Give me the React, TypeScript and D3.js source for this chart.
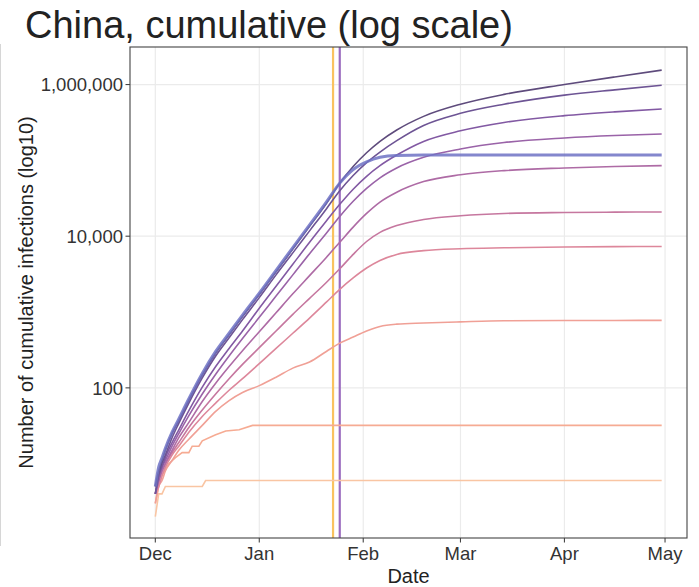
import React from "react";
import * as d3 from "d3";

const W = 699;
const H = 587;
const M = { left: 130, right: 687, top: 47, bottom: 538 };

const START = new Date(2019, 11, 1);
const dayDate = (d: number) => new Date(2019, 11, 1 + d);

// common day grid (days since 1 Dec 2019)
const gridDays = [0, 1, 2, 3, 5, 7, 10, 14, 18, 22, 26, 31, 36, 41, 46, 51, 55, 59, 63, 67, 72, 80, 91, 104, 122, 137, 151];

const s1 = [5, 8, 11, 15, 25, 37, 69, 148, 288, 501, 871, 1706, 3388, 6761, 13490, 26915, 50119, 83176, 125893, 177828, 251189, 380189, 549541, 741310, 1000000, 1258925, 1548817];
const s2 = [4, 7, 10, 13, 22, 34, 63, 135, 263, 457, 794, 1549, 3090, 6026, 11749, 22909, 39811, 63096, 93325, 128825, 181970, 288403, 416869, 549541, 724436, 851138, 977237];
const s3 = [4, 7, 9, 12, 19, 28, 50, 102, 191, 331, 562, 1122, 2188, 4266, 8318, 15849, 26303, 41687, 61660, 85114, 117490, 177828, 245471, 316228, 389045, 436516, 475335];
const s4 = [4, 6, 9, 11, 17, 25, 43, 83, 151, 263, 447, 851, 1622, 3090, 5888, 10965, 18197, 28840, 42658, 58884, 79433, 109648, 141254, 171791, 197242, 212324, 222331];
const s5 = [4, 6, 8, 10, 15, 22, 35, 66, 115, 191, 309, 550, 977, 1738, 3020, 5248, 8318, 13183, 19953, 28184, 38019, 52481, 64565, 73282, 79433, 83176, 85114];
const s6 = [4, 6, 8, 10, 14, 19, 30, 51, 83, 132, 204, 339, 562, 933, 1514, 2455, 3715, 5754, 8511, 11220, 13804, 16596, 18621, 19953, 20512, 20749, 20893];
const s7 = [4, 5, 7, 9, 13, 17, 26, 42, 63, 93, 132, 209, 331, 525, 832, 1349, 1995, 2818, 3802, 4786, 5754, 6457, 6839, 7031, 7194, 7278, 7328];
const s8 = [3, 5, 6, 8, 11, 15, 21, 32, 49, 68, 87, 107, 138, 182, 219, 302, 389, 468, 562, 646, 692, 716, 741, 766, 773, 774, 776];
const blue = [5, 9, 12, 16, 26, 39, 72, 155, 302, 525, 912, 1778, 3548, 7079, 14125, 28184, 50119, 75858, 95499, 109648, 116100, 117500, 117500, 117500, 117500, 117500, 117500];

// low, step-like series
const s9Days = [0, 1, 2, 4, 6, 8, 10, 11, 13, 14, 17, 18, 21, 25, 29, 151];
const s9 = [3, 5, 7, 10, 12, 14, 14, 17, 17, 20, 23, 24, 27, 28, 32, 32];
const s10Days = [0, 1, 2, 3, 14, 15, 151];
const s10 = [2, 4, 4, 5, 5, 6, 6];

const smoothSeries = [s1, s2, s3, s4, s5, s6, s7, s8];
const smoothColors = ["#5e4b7c", "#6d5494", "#8259a3", "#9a63a8", "#ae6ba5", "#c6779f", "#dd879b", "#f0a096"];

const vlineDates = [new Date(2020, 0, 23), new Date(2020, 0, 25)];
const vlineColors = ["#f9c35f", "#9b6bbf"];

const yTicks = [100, 10000, 1000000];
const xTickDates = [new Date(2019, 11, 1), new Date(2020, 0, 1), new Date(2020, 1, 1), new Date(2020, 2, 1), new Date(2020, 3, 1), new Date(2020, 4, 1)];
const xTickLabels = ["Dec", "Jan", "Feb", "Mar", "Apr", "May"];

const FONT = "'Liberation Sans', Arial, Helvetica, sans-serif";

export default function App() {
  const x = d3
    .scaleTime()
    .domain([new Date(START.getTime() - 7.55 * 864e5), new Date(START.getTime() + 158.55 * 864e5)])
    .range([M.left, M.right]);
  const y = d3.scaleLog().domain([Math.pow(10, 0.02), Math.pow(10, 6.495)]).range([M.bottom, M.top]);

  const smoothLine = d3
    .line<[number, number]>()
    .x((d) => x(dayDate(d[0])))
    .y((d) => y(d[1]))
    .curve(d3.curveMonotoneX);
  const stepLine = d3
    .line<[number, number]>()
    .x((d) => x(dayDate(d[0])))
    .y((d) => y(d[1]));

  const fmt = d3.format(",");
  const zip = (days: number[], vals: number[]) => days.map((d, i) => [d, vals[i]] as [number, number]);

  return (
    <svg width={W} height={H} style={{ position: "absolute", left: 0, top: 0, background: "#fff" }} fontFamily={FONT}>
      <rect x={0} y={0} width={W} height={H} fill="#fff" />
      <line x1={0.5} x2={0.5} y1={44} y2={546} stroke="#d6d6d6" strokeWidth={1} />
      {/* grid */}
      {yTicks.map((t) => (
        <line key={"gy" + t} x1={M.left} x2={M.right} y1={y(t)} y2={y(t)} stroke="#ebebeb" strokeWidth={1.2} />
      ))}
      {xTickDates.map((t, i) => (
        <line key={"gx" + i} x1={x(t)} x2={x(t)} y1={M.top} y2={M.bottom} stroke="#ebebeb" strokeWidth={1.2} />
      ))}
      {/* vertical lines */}
      {vlineDates.map((d, i) => (
        <line key={"v" + i} x1={x(d)} x2={x(d)} y1={M.top} y2={M.bottom} stroke={vlineColors[i]} strokeWidth={2.2} />
      ))}
      {/* series */}
      <path d={stepLine(zip(s10Days, s10)) || ""} fill="none" stroke="#f9c5a3" strokeWidth={1.6} />
      <path d={stepLine(zip(s9Days, s9)) || ""} fill="none" stroke="#f6ab93" strokeWidth={1.6} />
      {smoothSeries
        .map((s, i) => ({ s, i }))
        .reverse()
        .map(({ s, i }) => (
          <path key={"s" + i} d={smoothLine(zip(gridDays, s)) || ""} fill="none" stroke={smoothColors[i]} strokeWidth={1.6} />
        ))}
      <path d={smoothLine(zip(gridDays, blue)) || ""} fill="none" stroke="#6f72c4" strokeOpacity={0.85} strokeWidth={3} />
      {/* panel border */}
      <rect x={M.left} y={M.top} width={M.right - M.left} height={M.bottom - M.top} fill="none" stroke="#444" strokeWidth={1.1} />
      {/* y axis */}
      {yTicks.map((t) => (
        <g key={"yt" + t}>
          <line x1={M.left - 4.5} x2={M.left} y1={y(t)} y2={y(t)} stroke="#444" strokeWidth={1.1} />
          <text x={M.left - 7} y={y(t)} dy="0.36em" textAnchor="end" fontSize={18.5} fill="#333">
            {fmt(t)}
          </text>
        </g>
      ))}
      {/* x axis */}
      {xTickDates.map((t, i) => (
        <g key={"xt" + i}>
          <line x1={x(t)} x2={x(t)} y1={M.bottom} y2={M.bottom + 4.5} stroke="#444" strokeWidth={1.1} />
          <text x={x(t)} y={560} textAnchor="middle" fontSize={18.5} fill="#333">
            {xTickLabels[i]}
          </text>
        </g>
      ))}
      <text x={(M.left + M.right) / 2} y={582.5} textAnchor="middle" fontSize={20} fill="#222">
        Date
      </text>
      <text transform={`translate(33, ${(M.top + M.bottom) / 2}) rotate(-90)`} textAnchor="middle" fontSize={20} fill="#222">
        Number of cumulative infections (log10)
      </text>
      <text x={25} y={38} fontSize={38} fill="#222">
        China, cumulative (log scale)
      </text>
    </svg>
  );
}
